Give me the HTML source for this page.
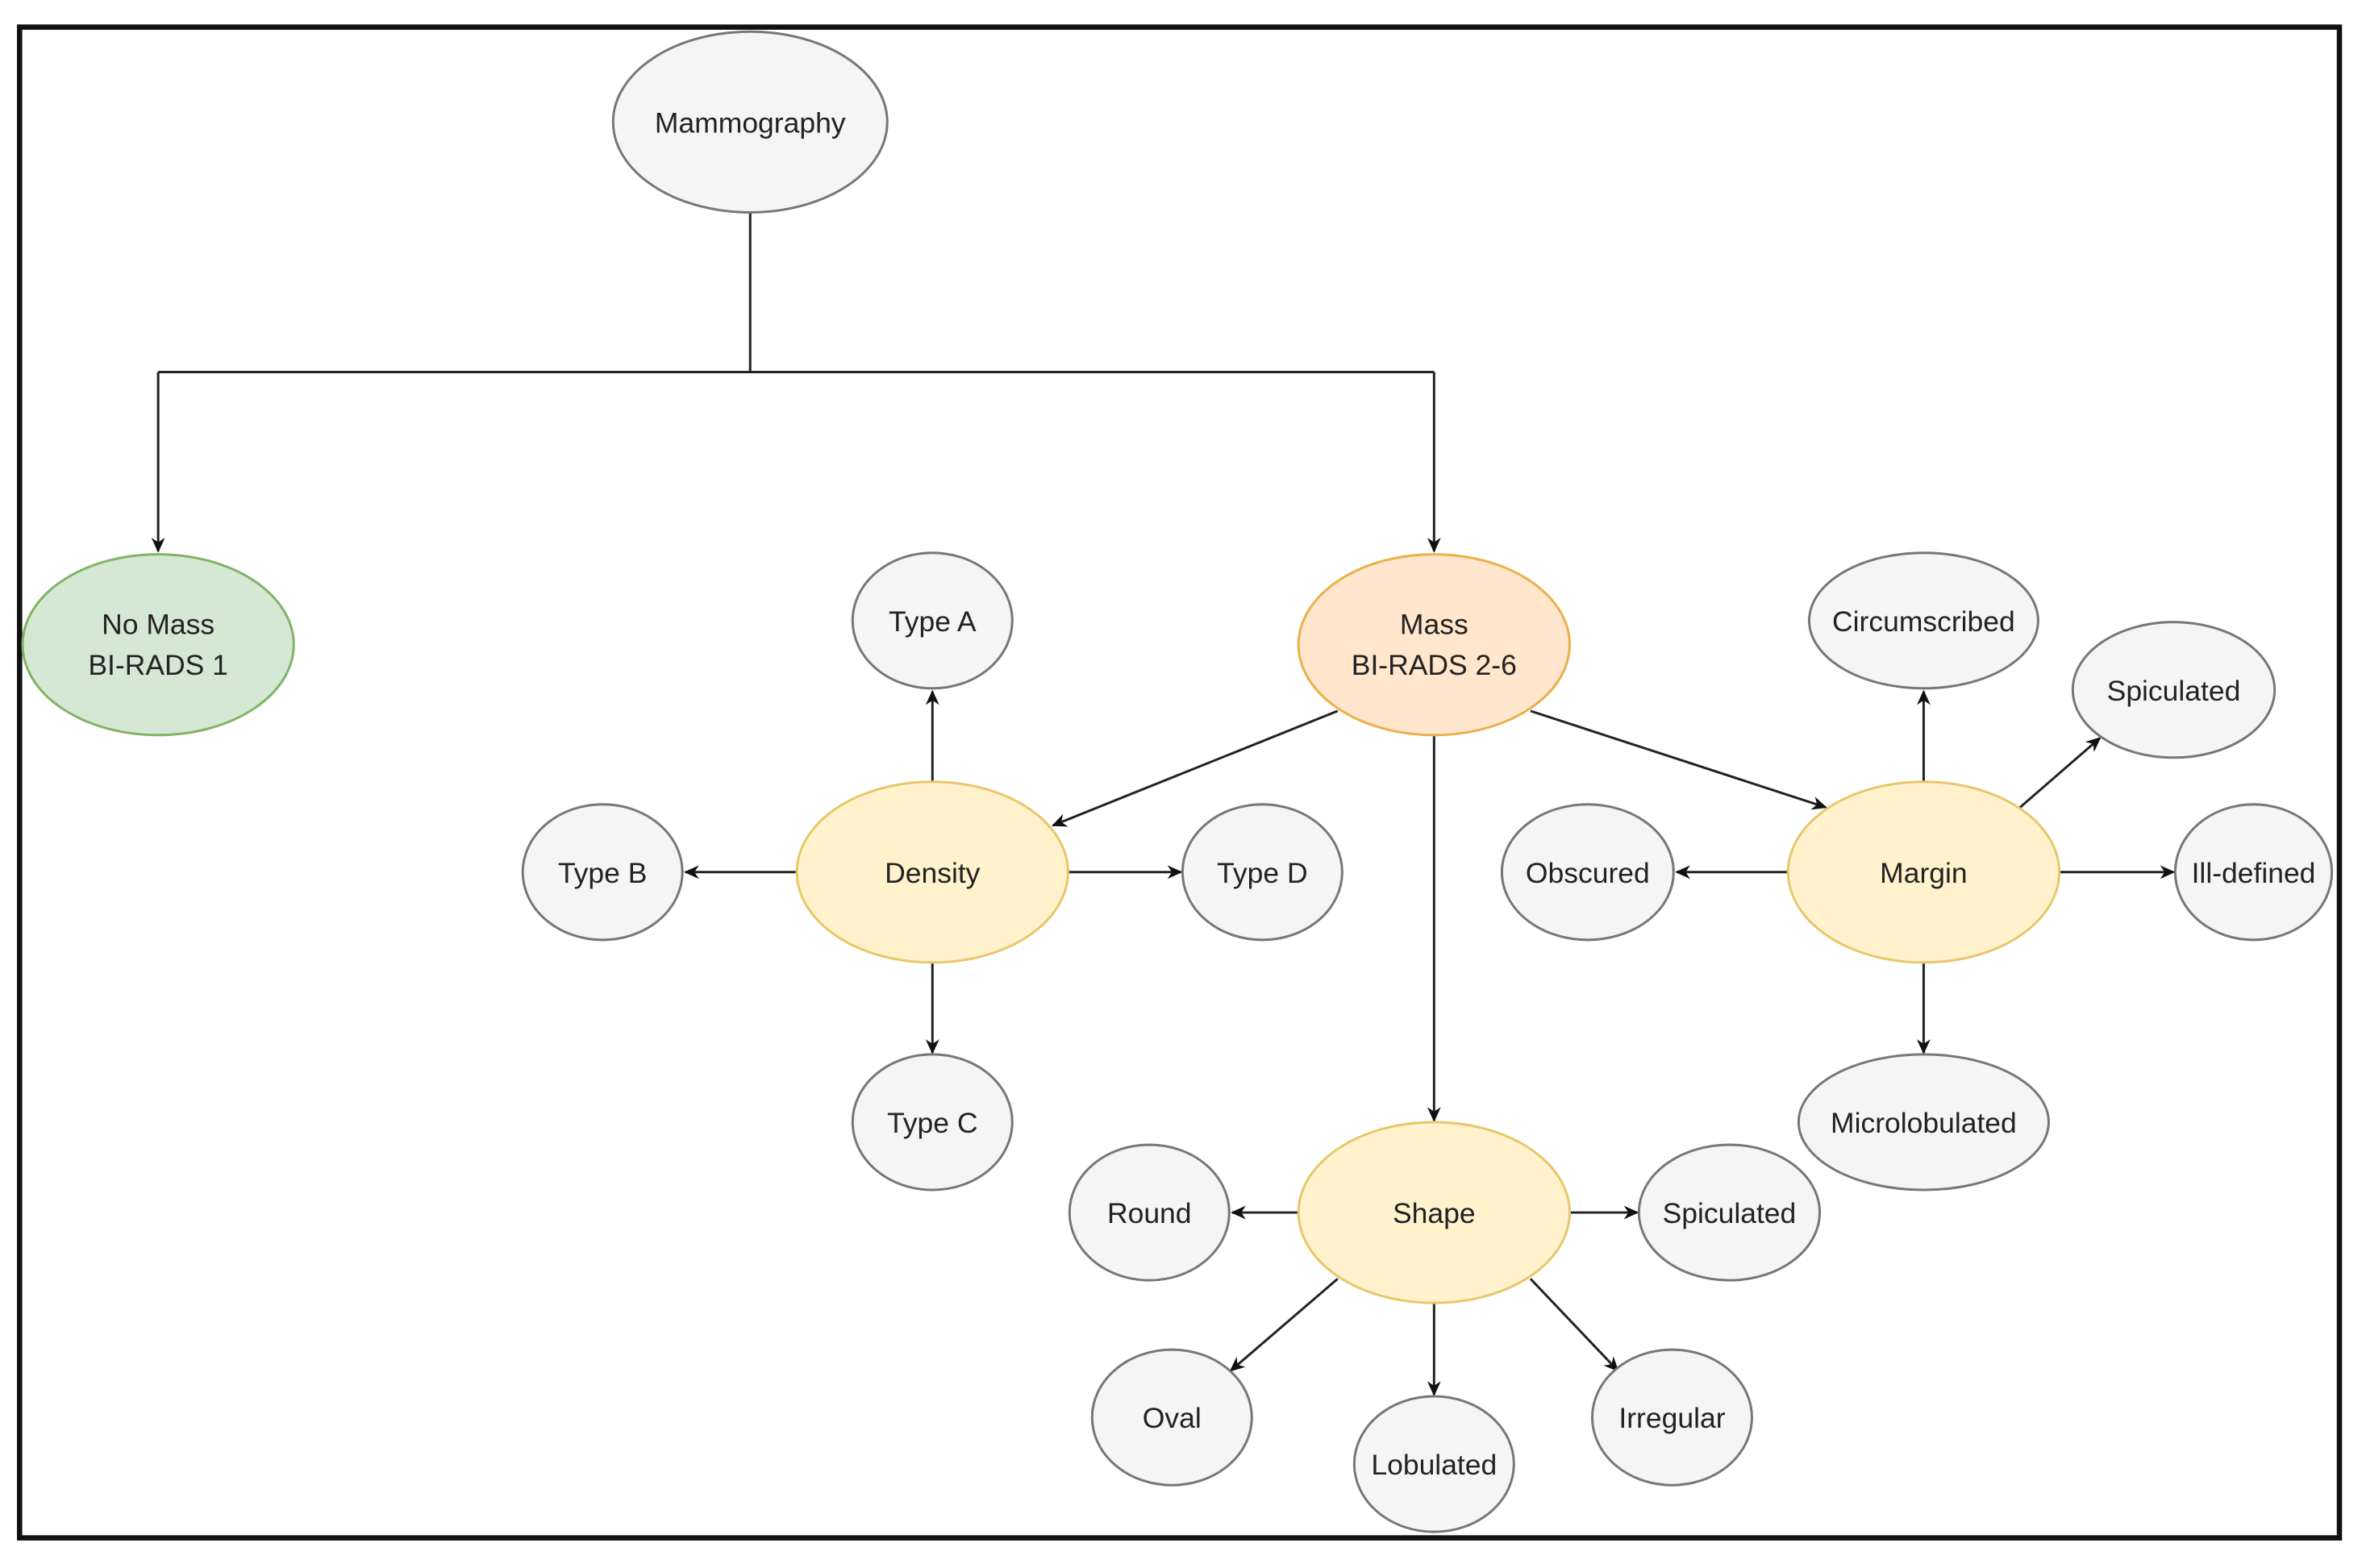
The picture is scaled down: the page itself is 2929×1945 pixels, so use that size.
<!DOCTYPE html>
<html><head><meta charset="utf-8"><style>html,body{margin:0;padding:0;background:#fff}svg{display:block}</style></head><body>
<svg width="2929" height="1945" viewBox="0 0 1568 1041" preserveAspectRatio="none" xmlns="http://www.w3.org/2000/svg" font-family="Liberation Sans, sans-serif" font-size="19" text-anchor="middle">
<defs><marker id="a" markerWidth="10" markerHeight="10" refX="9" refY="5" orient="auto" markerUnits="userSpaceOnUse"><path d="M0,0.5 L10,5 L0,9.5 L3,5 Z" fill="#111"/></marker></defs>
<rect x="13" y="18" width="1540" height="1003" fill="#fff" stroke="#111" stroke-width="3.5"/>
<g stroke="#222" stroke-width="1.6" fill="none">
<path d="M498,141 V247 M105,247 H952"/>
<path d="M105,247 V366" marker-end="url(#a)"/>
<path d="M952,247 V366" marker-end="url(#a)"/>
<path d="M888,472 L699,548" marker-end="url(#a)"/>
<path d="M1016,472 L1212,536" marker-end="url(#a)"/>
<path d="M952,488 V744" marker-end="url(#a)"/>
<path d="M619,519 V459" marker-end="url(#a)"/>
<path d="M529,579 H455" marker-end="url(#a)"/>
<path d="M709,579 H784" marker-end="url(#a)"/>
<path d="M619,639 V699" marker-end="url(#a)"/>
<path d="M1277,519 V459" marker-end="url(#a)"/>
<path d="M1341,536 L1394,490" marker-end="url(#a)"/>
<path d="M1187,579 H1113" marker-end="url(#a)"/>
<path d="M1367,579 H1443" marker-end="url(#a)"/>
<path d="M1277,639 V699" marker-end="url(#a)"/>
<path d="M862,805 H818" marker-end="url(#a)"/>
<path d="M1042,805 H1087" marker-end="url(#a)"/>
<path d="M888,849 L817,910" marker-end="url(#a)"/>
<path d="M952,865 V926" marker-end="url(#a)"/>
<path d="M1016,849 L1074,910" marker-end="url(#a)"/>
</g>
<g stroke-width="1.6">
<ellipse cx="498" cy="81" rx="91" ry="60" fill="#f5f5f5" stroke="#777"/>
<ellipse cx="105" cy="428" rx="90" ry="60" fill="#d5e8d4" stroke="#82b366"/>
<ellipse cx="952" cy="428" rx="90" ry="60" fill="#ffe6cc" stroke="#eab04a"/>
<ellipse cx="619" cy="579" rx="90" ry="60" fill="#fff2cc" stroke="#e8c76a"/>
<ellipse cx="1277" cy="579" rx="90" ry="60" fill="#fff2cc" stroke="#e8c76a"/>
<ellipse cx="952" cy="805" rx="90" ry="60" fill="#fff2cc" stroke="#e8c76a"/>
<g fill="#f5f5f5" stroke="#777">
<ellipse cx="619" cy="412" rx="53" ry="45"/>
<ellipse cx="400" cy="579" rx="53" ry="45"/>
<ellipse cx="838" cy="579" rx="53" ry="45"/>
<ellipse cx="619" cy="745" rx="53" ry="45"/>
<ellipse cx="1277" cy="412" rx="76" ry="45"/>
<ellipse cx="1443" cy="458" rx="67" ry="45"/>
<ellipse cx="1054" cy="579" rx="57" ry="45"/>
<ellipse cx="1496" cy="579" rx="52" ry="45"/>
<ellipse cx="1277" cy="745" rx="83" ry="45"/>
<ellipse cx="763" cy="805" rx="53" ry="45"/>
<ellipse cx="1148" cy="805" rx="60" ry="45"/>
<ellipse cx="778" cy="941" rx="53" ry="45"/>
<ellipse cx="952" cy="972" rx="53" ry="45"/>
<ellipse cx="1110" cy="941" rx="53" ry="45"/>
</g></g>
<g fill="#222">
<text x="498" y="88">Mammography</text>
<text x="105" y="421">No Mass</text><text x="105" y="448">BI-RADS 1</text>
<text x="952" y="421">Mass</text><text x="952" y="448">BI-RADS 2-6</text>
<text x="619" y="586">Density</text>
<text x="1277" y="586">Margin</text>
<text x="952" y="812">Shape</text>
<text x="619" y="419">Type A</text>
<text x="400" y="586">Type B</text>
<text x="838" y="586">Type D</text>
<text x="619" y="752">Type C</text>
<text x="1277" y="419">Circumscribed</text>
<text x="1443" y="465">Spiculated</text>
<text x="1054" y="586">Obscured</text>
<text x="1496" y="586">Ill-defined</text>
<text x="1277" y="752">Microlobulated</text>
<text x="763" y="812">Round</text>
<text x="1148" y="812">Spiculated</text>
<text x="778" y="948">Oval</text>
<text x="952" y="979">Lobulated</text>
<text x="1110" y="948">Irregular</text>
</g>
</svg>
</body></html>
